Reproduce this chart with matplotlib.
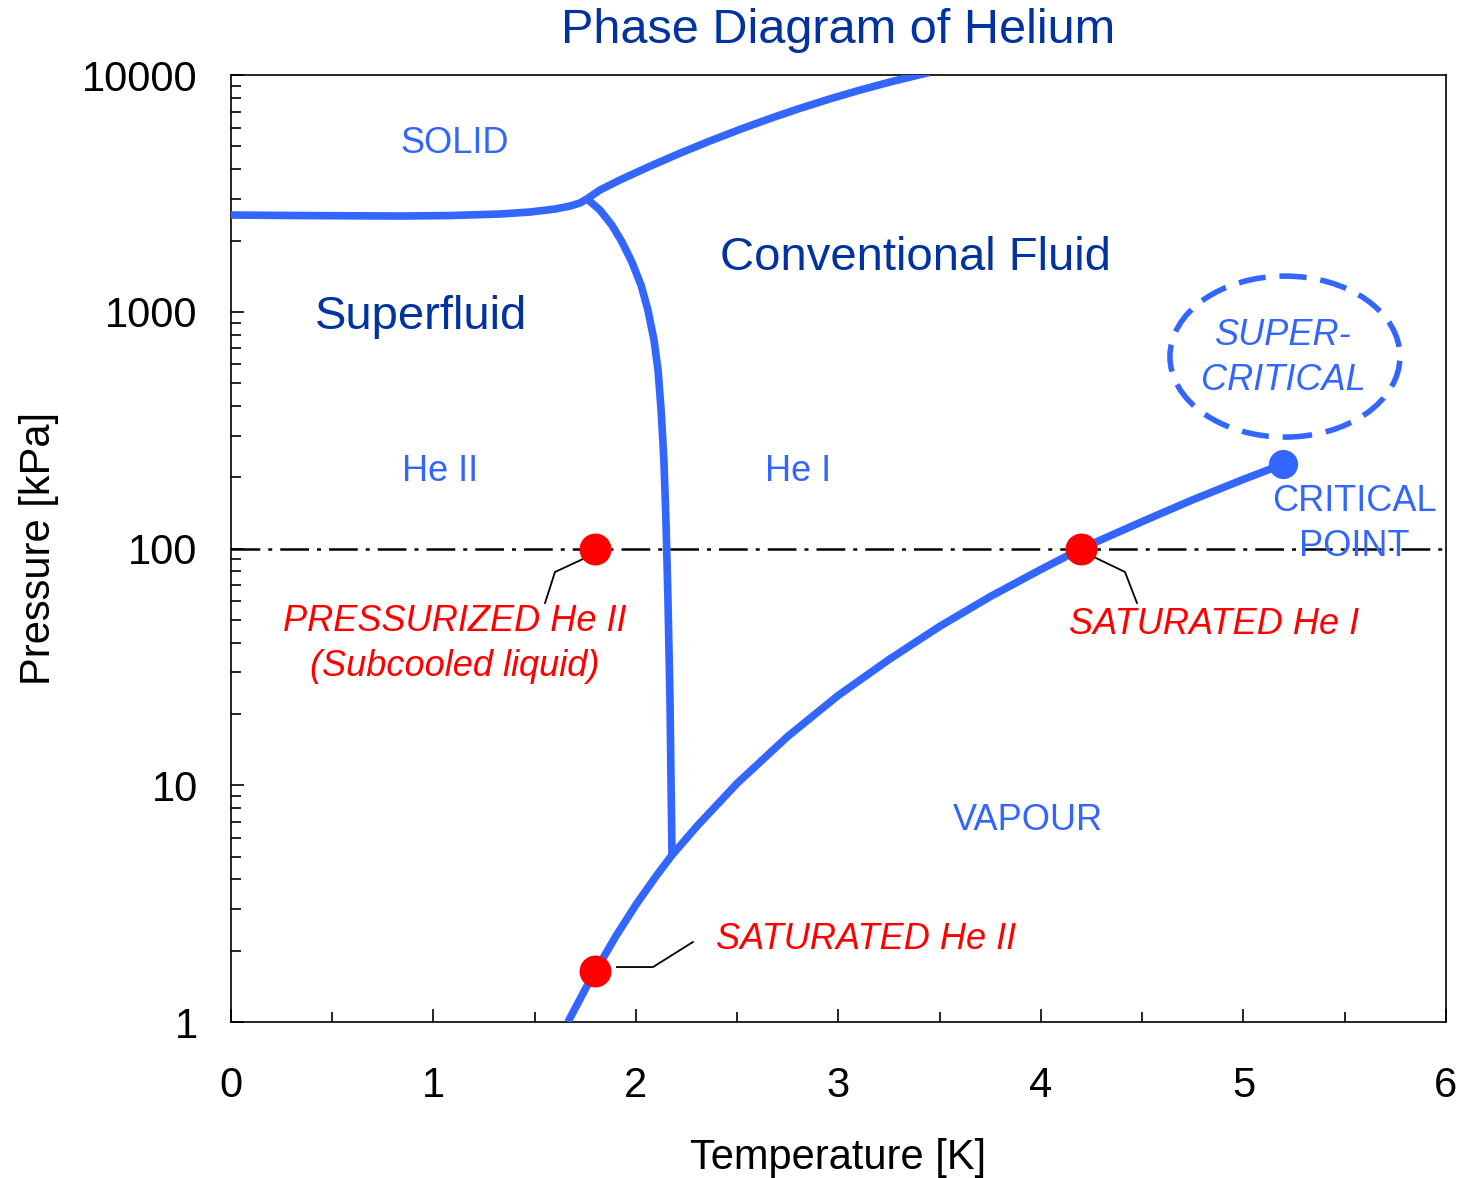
import numpy as np
import matplotlib.pyplot as plt
from matplotlib.patches import Ellipse
from matplotlib.ticker import LogLocator, FixedLocator, NullFormatter

plt.rcParams['font.family'] = ['Liberation Sans', 'DejaVu Sans']

LINE_BLUE = '#3366ff'
DARK_BLUE = '#0033a0'
RED = '#ff0000'

# melting curve, superfluid / solid boundary
melt_low_T = [0.0, 0.341, 0.835, 1.081, 1.328, 1.477, 1.600, 1.674, 1.723, 1.758]
melt_low_P = [2563, 2550, 2538, 2550, 2588, 2639, 2716, 2797, 2880, 3000]

# melting curve, He I / solid boundary
melt_high_T = [1.758, 1.822, 1.921, 2.069, 2.217, 2.365, 2.514, 2.662, 2.810,
               2.958, 3.106, 3.254, 3.393, 3.45]
melt_high_P = [3000, 3268, 3603, 4119, 4673, 5265, 5895, 6553, 7233,
               7931, 8636, 9340, 9990, 10250]

# lambda line
lambda_T = [1.758, 1.822, 1.881, 1.931, 1.980, 2.025, 2.059, 2.089, 2.109,
            2.124, 2.138, 2.148, 2.158, 2.168, 2.173, 2.178]
lambda_P = [3000, 2690, 2324, 1971, 1622, 1297, 1017, 760, 567,
            385, 236, 132, 60.6, 22.9, 10.5, 5.07]

# saturated vapour pressure curve up to the critical point
vap_T = [1.664, 1.75, 1.8, 1.9, 2.0, 2.1, 2.178, 2.3, 2.5, 2.75,
         3.0, 3.25, 3.5, 3.75, 4.0, 4.2, 4.5, 4.75, 5.0, 5.195]
vap_P = [1.0, 1.38, 1.64, 2.30, 3.13, 4.14, 5.07, 6.70, 10.2, 16.1,
         24.0, 34.0, 46.9, 62.7, 81.6, 100, 130, 160.7, 196, 227]

# operating points
state_T = [1.8, 4.2, 1.8]
state_P = [100, 100, 1.64]
crit_T, crit_P = 5.195, 227

atm_P = 100

# leader lines from the red points to their labels
lead_press_T = [1.78, 1.60, 1.551]
lead_press_P = [93.8, 79.6, 58.9]
lead_sat1_T = [4.242, 4.415, 4.474]
lead_sat1_P = [93.8, 79.6, 58.9]
lead_sat2_T = [1.906, 2.084, 2.281]
lead_sat2_P = [1.707, 1.707, 2.177]

fig = plt.figure(figsize=(14.75, 11.78), dpi=100)
ax = fig.add_axes([0.1566, 0.1324, 0.8237, 0.8039])

ax.set_yscale('log')
ax.set_xlim(0, 6)
ax.set_ylim(1, 10000)

lw = 5.5
for T, P in [(melt_low_T, melt_low_P), (melt_high_T, melt_high_P),
             (lambda_T, lambda_P), (vap_T, vap_P)]:
    ax.plot(T, P, color=LINE_BLUE, lw=lw, solid_capstyle='butt', solid_joinstyle='round', zorder=3)

ax.axhline(atm_P, color='black', lw=1.8, linestyle=(0, (11.5, 3.2, 1.6, 3.2)), zorder=2)

for T, P in [(lead_press_T, lead_press_P), (lead_sat1_T, lead_sat1_P), (lead_sat2_T, lead_sat2_P)]:
    ax.plot(T, P, color='black', lw=1.3, zorder=4)

ax.plot(state_T, state_P, 'o', color=RED, ms=23, mec='none', zorder=5)
ax.plot([crit_T], [crit_P], 'o', color=LINE_BLUE, ms=21, mec='none', zorder=5)

ax.add_patch(Ellipse((0.8675, 0.7027), 0.1893, 0.170, transform=ax.transAxes,
                     fill=False, edgecolor=LINE_BLUE, lw=4,
                     linestyle=(0, (4.9, 2.5)), zorder=3))

# region labels
ax.text(1.106, 5160, 'SOLID', color=LINE_BLUE, fontsize=26, ha='center', va='center')
ax.text(0.938, 950, 'Superfluid', color=DARK_BLUE, fontsize=34, ha='center', va='center')
ax.text(3.378, 1687, 'Conventional Fluid', color=DARK_BLUE, fontsize=34, ha='center', va='center')
ax.text(1.032, 212, 'He II', color=LINE_BLUE, fontsize=26, ha='center', va='center')
ax.text(2.80, 212, 'He I', color=LINE_BLUE, fontsize=26, ha='center', va='center')
ax.text(3.936, 7.13, 'VAPOUR', color=LINE_BLUE, fontsize=26, ha='center', va='center')
ax.text(5.195, 638, 'SUPER-\nCRITICAL', color=LINE_BLUE, fontsize=26, style='italic',
        ha='center', va='center', linespacing=1.38)
ax.text(5.546, 127, 'CRITICAL\nPOINT', color=LINE_BLUE, fontsize=26,
        ha='center', va='center', linespacing=1.38)

# point labels
ax.text(1.106, 39.5, 'PRESSURIZED He II\n(Subcooled liquid)', color=RED, fontsize=26,
        style='italic', ha='center', va='center', linespacing=1.38)
ax.text(4.854, 48.0, 'SATURATED He I', color=RED, fontsize=26, style='italic',
        ha='center', va='center')
ax.text(3.136, 2.24, 'SATURATED He II', color=RED, fontsize=26, style='italic',
        ha='center', va='center')

ax.set_title('Phase Diagram of Helium', color=DARK_BLUE, fontsize=35, pad=23)
ax.set_xlabel('Temperature [K]', fontsize=30, labelpad=23)
ax.set_ylabel('Pressure [kPa]', fontsize=30)
ax.yaxis.set_label_coords(-0.1416, 0.5)

ax.xaxis.set_major_locator(FixedLocator([0, 1, 2, 3, 4, 5, 6]))
ax.xaxis.set_minor_locator(FixedLocator([0.5, 1.5, 2.5, 3.5, 4.5, 5.5]))
ax.yaxis.set_major_locator(FixedLocator([1, 10, 100, 1000, 10000]))
ax.yaxis.set_minor_locator(LogLocator(base=10, subs=np.arange(2, 10)))
ax.yaxis.set_minor_formatter(NullFormatter())
ax.set_yticklabels(['1', '10', '100', '1000', '10000'])

ax.tick_params(which='both', direction='in', top=False, right=False, width=1.2)
ax.tick_params(which='major', length=9.5, labelsize=30)
ax.tick_params(axis='x', which='major', pad=32)
ax.tick_params(axis='y', which='major', pad=24)
ax.tick_params(which='minor', length=7)
for s in ax.spines.values():
    s.set_linewidth(1.2)

fig.savefig('out.png', dpi=100)
